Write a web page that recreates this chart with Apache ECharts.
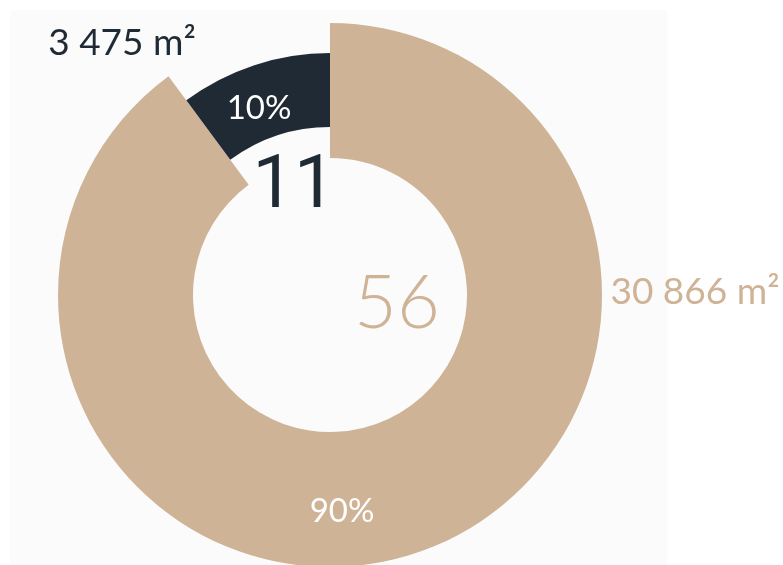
<!DOCTYPE html>
<html><head><meta charset="utf-8">
<script src="https://cdn.jsdelivr.net/npm/echarts@6/dist/echarts.min.js"></script>
<style>html,body{margin:0;padding:0;background:#ffffff}#c{width:783px;height:565px}</style>
</head><body><div id="c"></div>
<script>
// ---- data ----
const categories = ['Tan', 'Dark'];
const areas = [30866, 3475];
const areaLabels = ['30 866 m²', '3 475 m²'];
const counts = [56, 11];
const colors = ['#cfb396', '#1f2a35'];

const FONT = 'Lato, "Noto Sans", sans-serif';
const FONT_NUM = 'Roboto, Lato, sans-serif';
const TRANSPARENT = 'rgba(0,0,0,0)';
const CENTER = [330, 295];

function ringData(visibleIndex) {
  return categories.map((name, i) => ({
    name: name,
    value: areas[i],
    itemStyle: { color: i === visibleIndex ? colors[i] : TRANSPARENT },
    label: { show: i === visibleIndex }
  }));
}

const pctLabel = {
  position: 'inside',
  color: '#ffffff',
  fontFamily: FONT,
  fontWeight: 400,
  fontSize: 33,
  formatter: p => Math.round(p.percent) + '%'
};

const chart = echarts.init(document.getElementById('c'), null, { renderer: 'canvas' });
chart.setOption({
  animation: false,
  backgroundColor: '#ffffff',
  graphic: [
    { type: 'rect', z: -100, silent: true, shape: { x: 10, y: 10, width: 657, height: 560 }, style: { fill: '#fbfbfb' } },
    { type: 'text', z: 100, style: { text: areaLabels[1], x: 122, y: 43, textAlign: 'center', textVerticalAlign: 'middle', fill: colors[1], fontSize: 37, fontWeight: 400, fontFamily: FONT } },
    { type: 'text', z: 100, style: { text: areaLabels[0], x: 695, y: 292, textAlign: 'center', textVerticalAlign: 'middle', fill: colors[0], fontSize: 37, fontWeight: 400, fontFamily: FONT } },
    { type: 'text', z: 100, style: { text: String(counts[1]), x: 294, y: 188, textAlign: 'center', textVerticalAlign: 'middle', fill: colors[1], fontSize: 74, fontWeight: 400, fontFamily: FONT_NUM } },
    { type: 'text', z: 100, style: { text: String(counts[0]), x: 397, y: 304, textAlign: 'center', textVerticalAlign: 'middle', fill: colors[0], fontSize: 74, fontWeight: 300, fontFamily: FONT } }
  ],
  series: [
    {
      type: 'pie', silent: true, center: CENTER, radius: [137, 272], startAngle: 90, clockwise: true,
      labelLine: { show: false }, emphasis: { disabled: true },
      label: pctLabel,
      labelLayout: () => ({ x: 342, y: 511, align: 'center', verticalAlign: 'middle' }),
      data: ringData(0)
    },
    {
      type: 'pie', silent: true, center: CENTER, radius: [168, 242], startAngle: 90, clockwise: true,
      labelLine: { show: false }, emphasis: { disabled: true },
      label: pctLabel,
      labelLayout: () => ({ x: 259, y: 108, align: 'center', verticalAlign: 'middle' }),
      data: ringData(1)
    }
  ]
});
</script>
</body></html>
